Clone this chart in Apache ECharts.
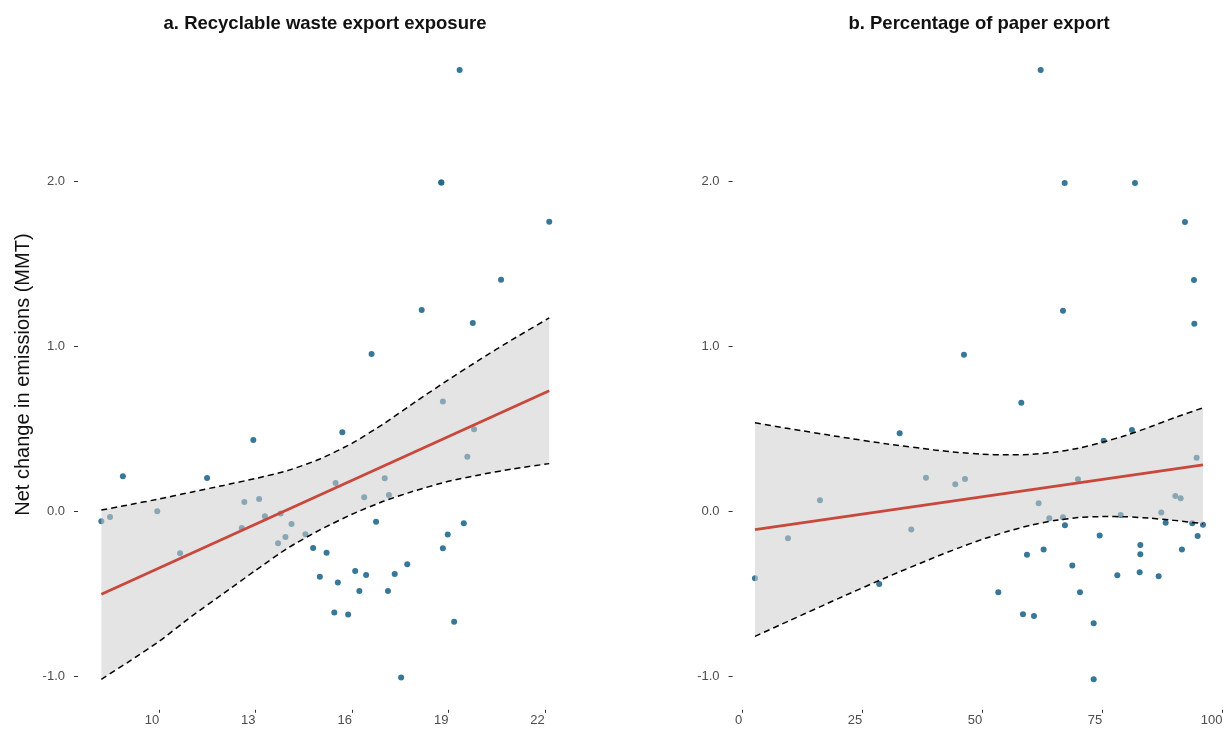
<!DOCTYPE html>
<html><head><meta charset="utf-8">
<script src="https://cdn.jsdelivr.net/npm/echarts@6/dist/echarts.min.js"></script>
<style>html,body{margin:0;padding:0;background:#fff}#c{width:1227px;height:736px}</style>
</head><body><div id="c"></div>
<script>
// Panel a: recyclable waste export exposure vs net change
const xA = [8.20, 8.47, 8.87, 9.94, 10.65, 11.49, 12.57, 12.65, 12.93, 13.11, 13.29, 13.70, 13.78, 13.93, 14.12, 14.55, 14.79, 15.00, 15.21, 15.49, 15.56, 15.70, 15.45, 15.88, 16.10, 16.23, 16.38, 16.44, 16.75, 16.61, 17.02, 17.12, 17.15, 17.33, 17.53, 17.72, 18.17, 18.83, 18.83, 18.98, 18.78, 18.78, 19.18, 19.35, 19.48, 19.59, 19.76, 19.80, 20.64, 22.14];
const yA = [-0.063, -0.036, 0.21, -0.002, -0.256, 0.20, -0.103, 0.055, 0.43, 0.073, -0.032, -0.196, -0.016, -0.158, -0.079, -0.141, -0.224, -0.398, -0.253, 0.17, -0.434, 0.477, -0.616, -0.628, -0.364, -0.485, 0.083, -0.388, -0.065, 0.952, 0.198, -0.485, 0.097, -0.382, -1.01, -0.323, 1.218, 0.663, -0.226, -0.143, 1.99, 1.99, -0.671, 2.673, -0.075, 0.329, 1.139, 0.495, 1.402, 1.753];
// Panel b: percentage of paper export vs net change
const xB = [62.16, 67.16, 81.8, 92.21, 94.09, 66.81, 94.16, 46.19, 2.67, 9.54, 16.2, 28.55, 32.8, 35.22, 38.28, 44.38, 46.4, 58.13, 53.34, 58.48, 60.77, 59.31, 61.74, 62.78, 63.96, 66.81, 67.22, 68.75, 69.93, 70.35, 73.2, 73.2, 74.45, 75.28, 78.12, 78.82, 81.17, 82.78, 82.91, 82.91, 86.73, 87.28, 88.19, 90.2, 91.31, 91.58, 93.73, 94.64, 94.85, 95.96];
const yB = [2.673, 1.988, 1.988, 1.752, 1.40, 1.214, 1.135, 0.947, -0.408, -0.166, 0.065, -0.442, 0.471, -0.113, 0.202, 0.162, 0.194, 0.656, -0.493, -0.626, -0.636, -0.265, 0.047, -0.234, -0.044, -0.038, -0.087, -0.331, 0.192, -0.493, -0.681, -1.02, -0.149, 0.426, -0.39, -0.024, 0.491, -0.372, -0.206, -0.263, -0.396, -0.01, -0.071, 0.091, 0.077, -0.234, -0.075, 0.323, -0.152, -0.083];

// Fitted lines and confidence bands
const fitAx = [8.2, 22.14];
const fitAy = [-0.505, 0.729];
const bandAx = [8.2, 9, 10, 11, 12, 13, 14, 15, 16, 17, 18, 19, 20, 21, 22.14];
const bandAup = [0.006, 0.035, 0.073, 0.114, 0.155, 0.197, 0.245, 0.315, 0.41, 0.53, 0.665, 0.795, 0.92, 1.04, 1.17];
const bandAlo = [-1.02, -0.92, -0.79, -0.64, -0.50, -0.36, -0.225, -0.115, -0.02, 0.06, 0.125, 0.18, 0.22, 0.255, 0.287];

const fitBx = [2.67, 95.96];
const fitBy = [-0.113, 0.279];
const bandBx = [2.67, 10, 20, 30, 40, 45, 50, 55, 60, 65, 70, 75, 80, 85, 90, 95.96];
const bandBup = [0.534, 0.498, 0.451, 0.407, 0.370, 0.355, 0.344, 0.340, 0.343, 0.356, 0.380, 0.416, 0.459, 0.510, 0.565, 0.625];
const bandBlo = [-0.760, -0.663, -0.531, -0.403, -0.282, -0.225, -0.172, -0.126, -0.087, -0.058, -0.040, -0.034, -0.035, -0.044, -0.057, -0.077];

const xTicksA = [10, 13, 16, 19, 22];
const xTicksB = [0, 25, 50, 75, 100];
const yTicks = [-1, 0, 1, 2];
const titles = ['a. Recyclable waste export exposure', 'b. Percentage of paper export'];
const yName = 'Net change in emissions (MMT)';

const zip = (a, b) => a.map((v, i) => [v, b[i]]);
const FONT = 'Liberation Sans, Arial, Helvetica, sans-serif';
const POINT = '#21688c';

function xAxisCfg(idx, min, max, ticks) {
  return {
    type: 'value', gridIndex: idx, min: min, max: max, position: 'bottom',
    axisLine: {show: false, onZero: false}, splitLine: {show: false},
    axisTick: {show: true, customValues: ticks, length: 3, lineStyle: {color: '#333', width: 1}},
    axisLabel: {customValues: ticks, align: 'right', margin: 4, color: '#4d4d4d', fontSize: 13, fontFamily: FONT}
  };
}
function yAxisCfg(idx, withName) {
  const c = {
    type: 'value', gridIndex: idx, min: -1.205, max: 2.858, position: 'left',
    axisLine: {show: false, onZero: false}, splitLine: {show: false},
    axisTick: {show: true, customValues: yTicks, length: 4, lineStyle: {color: '#333', width: 1}},
    axisLabel: {customValues: yTicks, margin: 13, color: '#4d4d4d', fontSize: 13, fontFamily: FONT,
      formatter: v => v.toFixed(1)}
  };
  if (withName) {
    c.name = yName; c.nameLocation = 'middle'; c.nameGap = 45; c.nameMoveOverlap = false;
    c.nameTextStyle = {fontSize: 20, color: '#111', fontFamily: FONT};
  }
  return c;
}
function bandSeries(idx, bx, up, lo) {
  return {
    type: 'custom', xAxisIndex: idx, yAxisIndex: idx, z: 3, silent: true,
    data: [[bx[0], up[0]]],
    renderItem: function (params, api) {
      const pts = [];
      for (let i = 0; i < bx.length; i++) pts.push(api.coord([bx[i], up[i]]));
      for (let i = bx.length - 1; i >= 0; i--) pts.push(api.coord([bx[i], lo[i]]));
      return {type: 'polygon', shape: {points: pts}, style: {fill: 'rgba(206,206,206,0.55)'}};
    }
  };
}
function dashSeries(idx, bx, vals) {
  return {type: 'line', xAxisIndex: idx, yAxisIndex: idx, z: 4, data: zip(bx, vals), symbol: 'none', smooth: 0.2,
    lineStyle: {color: '#000', width: 1.5, type: [6, 4]}, silent: true};
}
function fitSeries(idx, fx, fy) {
  return {type: 'line', xAxisIndex: idx, yAxisIndex: idx, z: 5, data: zip(fx, fy), symbol: 'none',
    lineStyle: {color: '#c9483b', width: 2.8}, silent: true};
}
function scatterSeries(idx, xs, ys) {
  return {type: 'scatter', xAxisIndex: idx, yAxisIndex: idx, z: 2, data: zip(xs, ys), symbolSize: 6,
    itemStyle: {color: POINT, opacity: 0.9}, silent: true};
}

const chart = echarts.init(document.getElementById('c'), null, {renderer: 'canvas'});
chart.setOption({
  animation: false,
  backgroundColor: '#fff',
  title: [
    {text: titles[0], left: 325, textAlign: 'center', top: 14, padding: 0,
      textStyle: {fontSize: 18.5, fontWeight: 'bold', color: '#111', fontFamily: FONT}},
    {text: titles[1], left: 979, textAlign: 'center', top: 14, padding: 0,
      textStyle: {fontSize: 18.5, fontWeight: 'bold', color: '#111', fontFamily: FONT}}
  ],
  grid: [
    {left: 78, top: 39.4, width: 494, height: 670.4},
    {left: 732.6, top: 39.4, width: 492.7, height: 670.4}
  ],
  xAxis: [xAxisCfg(0, 7.473, 22.848, xTicksA), xAxisCfg(1, -1.99, 100.61, xTicksB)],
  yAxis: [yAxisCfg(0, true), yAxisCfg(1, false)],
  series: [
    scatterSeries(0, xA, yA),
    bandSeries(0, bandAx, bandAup, bandAlo),
    dashSeries(0, bandAx, bandAup),
    dashSeries(0, bandAx, bandAlo),
    fitSeries(0, fitAx, fitAy),
    scatterSeries(1, xB, yB),
    bandSeries(1, bandBx, bandBup, bandBlo),
    dashSeries(1, bandBx, bandBup),
    dashSeries(1, bandBx, bandBlo),
    fitSeries(1, fitBx, fitBy)
  ]
});
</script></body></html>
